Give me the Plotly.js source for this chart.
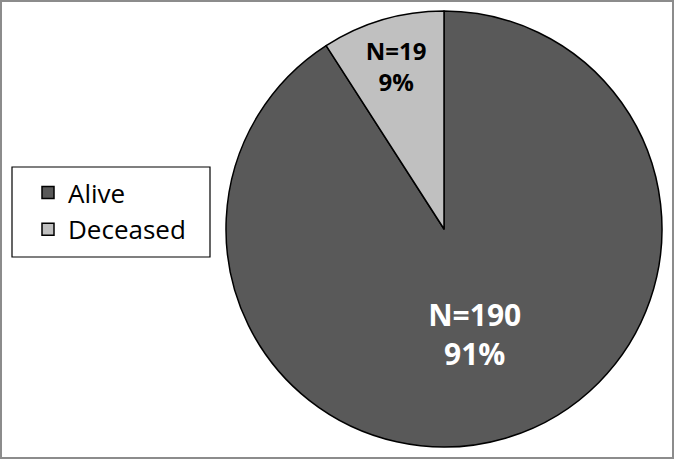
<!DOCTYPE html>
<html>
<head>
<meta charset="utf-8">
<script src="https://cdn.plot.ly/plotly-3.0.1.min.js"></script>
<style>
html,body{margin:0;padding:0;background:#fff;}
#wrap{position:relative;width:674px;height:459px;}
#chart{width:674px;height:459px;}
#frame{position:absolute;left:0;top:0;width:674px;height:459px;box-sizing:border-box;border:2px solid #8c8c8c;pointer-events:none;}
</style>
</head>
<body>
<div id="wrap"><div id="chart"></div><div id="frame"></div></div>
<script>
const labels = ["Alive", "Deceased"];
const counts = [190, 19];
const colors = ["#595959", "#c0c0c0"];
const textColors = ["#ffffff", "#000000"];
const textSizes = [30, 24];

const W = 674, H = 459;

const trace = {
  type: "pie",
  labels: labels,
  values: counts,
  sort: false,
  direction: "clockwise",
  rotation: 0,
  marker: {colors: colors, line: {color: "#000000", width: 1.5}},
  texttemplate: "N=%{value}<br>%{percent:.0%}",
  textposition: "inside",
  insidetextorientation: "horizontal",
  insidetextfont: {family: "Open Sans", weight: 700, color: textColors, size: textSizes},
  hoverinfo: "none",
  domain: {x: [226/W, 662/W], y: [12/H, 448/H]}
};

const layout = {
  width: W, height: H,
  margin: {l: 0, r: 0, t: 0, b: 0},
  paper_bgcolor: "#ffffff",
  showlegend: true,
  legend: {
    x: 28/W, y: 1 - 169/H, xanchor: "left", yanchor: "top",
    bgcolor: "rgba(0,0,0,0)", borderwidth: 0,
    font: {family: "Open Sans", size: 26, color: "#000000"},
    traceorder: "normal"
  },
  shapes: [{
    type: "rect", xref: "paper", yref: "paper",
    x0: 12/W, x1: 210/W, y0: 1 - 257/H, y1: 1 - 167/H,
    line: {color: "#000000", width: 1.2}, fillcolor: "rgba(0,0,0,0)", layer: "below"
  }]
};

Plotly.newPlot("chart", [trace], layout, {displayModeBar: false, staticPlot: true});
</script>
</body>
</html>
